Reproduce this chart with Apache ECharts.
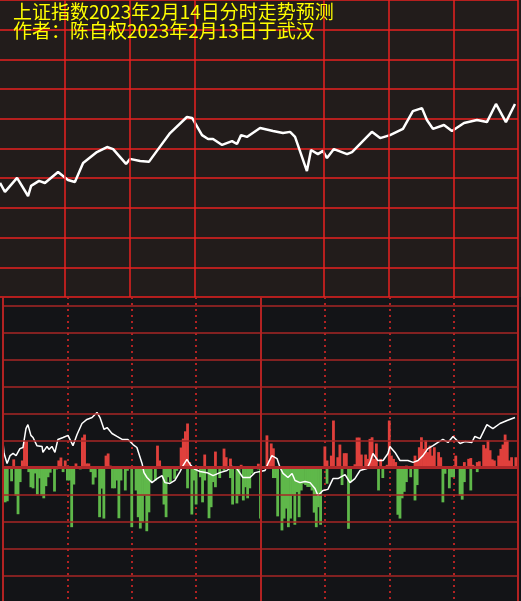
<!DOCTYPE html>
<html>
<head>
<meta charset="utf-8">
<title>上证指数2023年2月14日分时走势预测</title>
<script src="https://cdn.jsdelivr.net/npm/echarts@6.0.0/dist/echarts.min.js"></script>
<style>
  html, body { margin: 0; padding: 0; background: #131417; }
  #chart { width: 521px; height: 601px; }
</style>
</head>
<body>
<div id="chart"></div>
<script>
const titleLines = ["上证指数2023年2月14日分时走势预测", "作者：陈自权2023年2月13日于武汉"];

// minutes of the session (0..240), top panel value scale 0..100
const topVLines = [30, 60, 90, 150, 180, 210, 240];
const topLine = [
  [0, 38.4], [2.3, 35.4], [7.9, 40.1], [13.0, 34.0], [14.4, 37.4], [18.1, 39.1], [20.8, 38.4],
  [26.9, 42.1], [31.5, 39.4], [34.7, 38.7], [38.5, 45.1], [44.9, 48.8], [49.6, 50.5], [52.4, 49.8],
  [58.4, 44.8], [60.2, 46.5], [64.9, 45.8], [69.0, 45.5], [72.7, 49.2], [78.8, 55.2], [86.6, 60.6],
  [89.0, 60.3], [93.6, 54.5], [96.4, 53.2], [98.7, 53.2], [102.9, 51.2], [107.5, 52.5], [109.8, 51.5],
  [111.7, 54.5], [114.4, 53.9], [120.5, 56.9], [126.5, 55.9], [131.1, 55.2], [134.4, 55.6], [136.7, 53.9],
  [142.2, 42.4], [144.1, 49.5], [147.3, 48.1], [149.6, 49.2], [151.5, 46.8], [154.7, 49.8], [160.8, 48.1],
  [163.1, 48.8], [172.3, 55.6], [176.1, 53.5], [180.7, 54.5], [186.7, 56.6], [191.3, 62.6], [195.5, 63.6],
  [197.8, 59.6], [200.6, 56.6], [205.7, 57.9], [209.4, 55.9], [215.0, 58.6], [221.0, 59.6], [225.6, 58.9],
  [229.8, 65.0], [234.4, 58.9], [238.6, 65.0]
];

// bottom panel
const bottomLevels = [-40, -30, -20, -10, 10, 20, 30, 40, 50, 60];
const bottomSolidV = [0, 120, 240];
const bottomLine = [
  [0, 9.3], [0.5, 5.2], [1.9, 1.5], [3.3, 4.4], [4.7, 5.2], [6.1, 4.4], [7.9, 7.0], [9.3, 7.4],
  [10.7, 14.4], [11.6, 15.9], [13.0, 11.9], [14.0, 11.1], [15.8, 8.1], [18.2, 7.8], [18.6, 5.6],
  [20.5, 7.8], [21.4, 6.7], [22.8, 7.8], [24.2, 5.6], [25.6, 10.4], [28.0, 11.1], [30.3, 11.9],
  [32.6, 8.1], [34.5, 12.2], [36.8, 16.3], [39.1, 17.8], [41.5, 18.5], [43.8, 20.4], [45.2, 18.5],
  [47.1, 14.1], [48.5, 14.8], [50.8, 12.6], [53.1, 11.5], [55.5, 10.4], [58.2, 10.4], [60.6, 8.5],
  [62.4, 7.4], [64.8, 1.5], [65.7, -1.9], [67.1, -3.7], [69.4, -5.6], [71.8, -4.1], [74.1, -3.0],
  [75.5, -5.6], [77.8, -5.9], [80.1, -4.8], [82.5, -1.5], [83.9, 0.7], [85.7, 3.0], [87.6, 0.7],
  [89.5, -0.7], [91.8, -1.5], [95.1, -1.9], [97.9, -3.0], [101.1, -1.9], [104.4, -1.1], [106.7, 0.4],
  [109.0, -0.4], [111.8, -3.7], [115.1, -3.7], [117.4, -1.9], [119.8, -1.5], [122.1, -1.1], [123.5, 1.5],
  [125.3, 4.4], [127.7, 3.3], [129.1, 0], [130.5, -2.2], [132.8, -3.7], [134.7, -2.2], [136.1, -4.8],
  [138.4, -5.6], [140.7, -5.2], [143.1, -5.6], [145.4, -7.8], [146.8, -10.4], [149.1, -8.5], [151.4, -8.1],
  [153.8, -4.1], [156.1, -4.1], [159.4, -2.6], [161.7, -5.6], [164.0, -4.1], [166.4, -1.1], [169.6, -0.4],
  [171.0, 1.9], [172.4, 5.2], [174.7, 2.6], [177.1, 2.6], [179.4, 5.2], [180.3, 7.8], [182.7, 5.6],
  [185.0, 2.6], [188.7, 2.6], [191.1, 1.9], [193.4, 2.6], [195.7, 4.4], [198.0, 7.0], [200.4, 8.1],
  [202.7, 9.3], [205.0, 10.4], [207.4, 9.3], [209.7, 11.5], [213.0, 8.9], [215.3, 9.6], [218.5, 9.3],
  [219.9, 11.5], [222.3, 10.7], [225.5, 15.9], [228.3, 14.4], [231.6, 16.3], [234.9, 17.4], [238.6, 18.5]
];
const redBars = [
  [5, 3], [9, 2.6], [10, 9.7], [11, 9.7], [26, 2.6], [27, 3.7], [29, 2.6], [34, 1.5], [37, 11.1],
  [38, 12.2], [39, 1.5], [40, 1.5], [48, 4.4], [49, 5.2], [50, 0.7], [72, 8.1], [73, 2.6], [83, 7.4],
  [84, 10.7], [85, 13.4], [86, 16.3], [87, 2], [94, 4.8], [99, 5.9], [103, 7], [104, 3.8], [106, 3.3],
  [111, 1], [119, 1.4], [123, 11.9], [124, 2.6], [125, 8.9], [126, 7.1], [150, 7.8], [151, 2.6],
  [153, 4.4], [154, 17.4], [156, 3.8], [157, 8.5], [159, 5.3], [160, 5.3], [164, 1.2], [165, 11.1],
  [166, 11.1], [167, 4.8], [169, 4.8], [170, 3.2], [171, 10.6], [172, 11.2], [173, 3.2], [174, 8.9],
  [176, 3.2], [179, 1], [180, 17.4], [181, 4.4], [182, 3.2], [183, 2], [188, 0.7], [192, 4.4],
  [193, 2.6], [194, 7.5], [195, 11.2], [196, 6.9], [197, 10], [198, 5.7], [199, 8.1], [200, 4.4],
  [201, 7.5], [203, 5.7], [204, 3.8], [211, 4.4], [215, 2], [217, 3.2], [218, 3.5], [219, 1],
  [221, 2], [222, 2.3], [224, 8.4], [225, 7.1], [226, 10], [227, 6.4], [228, 3], [229, 2.6],
  [231, 4.4], [232, 6.9], [233, 8.5], [234, 12.2], [235, 10], [236, 2.6], [237, 3.8], [239, 3.8]
];
const greenBars = [
  [1, -12.9], [2, -12.5], [4, -5.1], [6, -10.4], [7, -17.3], [8, -5.4], [12, -1.7], [13, -7.3],
  [14, -7.7], [15, -2.2], [16, -10], [17, -4], [18, -10.4], [19, -11.4], [20, -6.9], [21, -3.6],
  [22, -1.9], [24, -8.9], [25, -0.7], [28, -1.7], [30, -4.8], [31, -4.8], [32, -22.1], [33, -6.3],
  [36, -0.7], [41, -1.7], [42, -6.3], [43, -3.7], [45, -18.4], [46, -7.8], [47, -18.9], [51, -7.7],
  [52, -7.7], [53, -4.8], [54, -18.8], [55, -4.8], [57, -8.5], [58, -1.2], [60, -22.1], [62, -8.5],
  [63, -18.4], [64, -22.6], [65, -20.3], [66, -10.4], [67, -23.6], [68, -16.6], [69, -5.4], [71, -4.8],
  [75, -13.7], [76, -18.4], [77, -3.6], [78, -5.4], [80, -4.2], [81, -1.2], [86, -7.7], [88, -17.4],
  [89, -4.8], [90, -13.7], [92, -3.6], [93, -12.9], [94, -4.8], [96, -18.8], [97, -14.7], [98, -5.4],
  [99, -7.3], [101, -3.9], [103, -1.2], [106, -3.9], [107, -13.7], [109, -13.3], [110, -10.4],
  [112, -12.2], [113, -7.3], [114, -11.4], [115, -7.7], [116, -2.3], [119, -0.7], [120, -18.9],
  [126, -3.9], [127, -3.9], [128, -18.1], [130, -23.3], [131, -18.9], [132, -15.2], [133, -22.1],
  [134, -18.9], [135, -10.4], [136, -21.2], [137, -9.1], [138, -18.4], [139, -8.5], [140, -6],
  [141, -6.5], [142, -7.2], [143, -7.2], [144, -8.5], [145, -16.7], [146, -22.1], [147, -14.7],
  [148, -21.2], [151, -6], [158, -6.5], [161, -22.7], [162, -5.4], [175, -8.5], [177, -3.9],
  [184, -17.5], [185, -18.9], [186, -11.4], [187, -9], [188, -5.4], [190, -3.6], [192, -12.2],
  [193, -6.5], [205, -12.9], [206, -2.3], [208, -7.7], [209, -3.6], [210, -3.6], [213, -10.4],
  [214, -11.9], [215, -5.4], [218, -8.5], [221, -1.7]
];

const TOP_BG = "#221c1b";
const BOTTOM_BG = "#131417";
const TOP_GRID = "#e82020";
const BOTTOM_GRID = "#a82626";

function lines(axis, values, style) {
  return values.map((v) => ({ [axis]: v, lineStyle: style }));
}

function markLines(data) {
  return {
    silent: true,
    symbol: ["none", "none"],
    label: { show: false },
    animation: false,
    data,
  };
}

const hiddenAxis = {
  axisLine: { show: false },
  axisTick: { show: false },
  axisLabel: { show: false },
};

const chart = echarts.init(document.getElementById("chart"), null, { renderer: "canvas" });

chart.setOption({
  animation: false,
  backgroundColor: BOTTOM_BG,
  graphic: [
    { type: "rect", z: -10, shape: { x: 0, y: 0, width: 521, height: 297 }, style: { fill: TOP_BG } },
  ],
  title: {
    text: titleLines.join("\n"),
    left: 13,
    top: 2,
    padding: 0,
    textStyle: {
      color: "#ffff00",
      fontFamily: "Noto Sans CJK SC",
      fontWeight: "normal",
      fontSize: 19,
      lineHeight: 19,
    },
  },
  grid: [
    { left: 0, top: 0, width: 518, height: 297 },
    { left: 3, top: 297, width: 515, height: 304 },
  ],
  xAxis: [
    { type: "value", gridIndex: 0, min: 0, max: 240, splitLine: { show: false }, ...hiddenAxis },
    {
      type: "value", gridIndex: 1, min: 0, max: 240, interval: 30,
      splitLine: { show: true, lineStyle: { color: "#b22222", width: 2, type: [2, 4] } },
      ...hiddenAxis,
    },
  ],
  yAxis: [
    {
      type: "value", gridIndex: 0, min: 0, max: 100, interval: 10,
      splitLine: { show: true, lineStyle: { color: TOP_GRID, width: 1.5 } },
      ...hiddenAxis,
    },
    { type: "value", gridIndex: 1, min: -49.44, max: 63.15, splitLine: { show: false }, ...hiddenAxis },
  ],
  series: [
    {
      type: "line",
      xAxisIndex: 0,
      yAxisIndex: 0,
      data: topLine,
      showSymbol: false,
      z: 3,
      lineStyle: { color: "#ffffff", width: 2.5 },
      markLine: markLines(lines("xAxis", topVLines, { color: TOP_GRID, width: 1.5, type: "solid" })),
    },
    {
      type: "line",
      xAxisIndex: 1,
      yAxisIndex: 1,
      data: [],
      z: 1,
      markLine: markLines([
        ...lines("yAxis", bottomLevels, { color: BOTTOM_GRID, width: 1.5, type: "solid" }),
        ...lines("xAxis", bottomSolidV, { color: "#b22222", width: 2, type: "solid" }),
      ]),
    },
    {
      name: "up",
      type: "bar",
      xAxisIndex: 1,
      yAxisIndex: 1,
      data: redBars,
      barWidth: 2.8,
      barGap: "-100%",
      z: 2,
      itemStyle: { color: "#e0403c" },
    },
    {
      name: "down",
      type: "bar",
      xAxisIndex: 1,
      yAxisIndex: 1,
      data: greenBars,
      barWidth: 2.8,
      barGap: "-100%",
      z: 2,
      itemStyle: { color: "#5fb84a" },
    },
    {
      type: "line",
      xAxisIndex: 1,
      yAxisIndex: 1,
      data: bottomLine,
      showSymbol: false,
      z: 4,
      lineStyle: { color: "#ffffff", width: 1.5 },
      markLine: markLines(lines("yAxis", [0], { color: "#b0282a", width: 3, type: "solid" })),
    },
  ],
});

window.addEventListener("resize", () => chart.resize());
</script>
</body>
</html>
